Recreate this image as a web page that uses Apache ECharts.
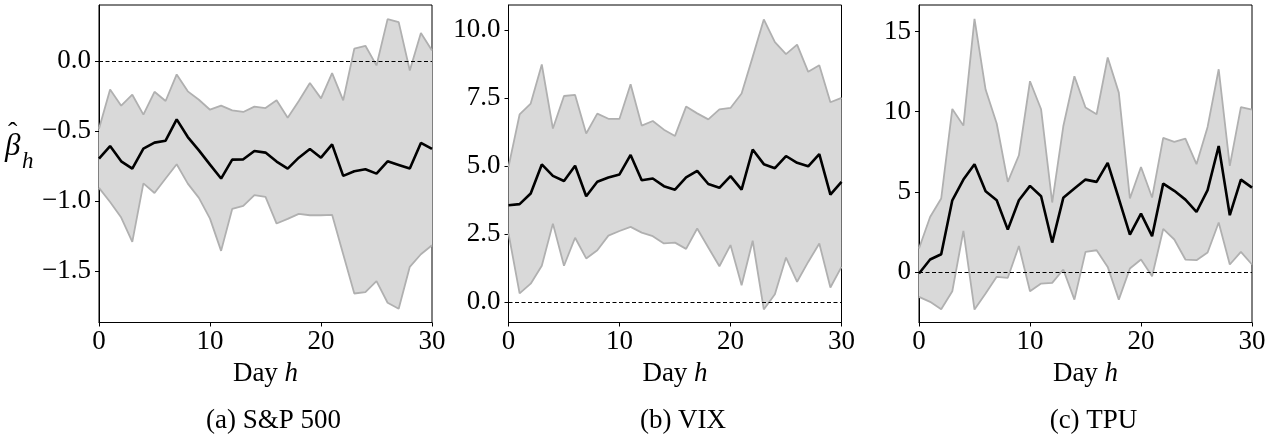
<!DOCTYPE html>
<html>
<head>
<meta charset="utf-8">
<script src="https://cdn.jsdelivr.net/npm/echarts@6/dist/echarts.min.js"></script>
<style>
html,body{margin:0;padding:0;background:#fff;}
#chart{width:1279px;height:439px;}
</style>
</head>
<body>
<div id="chart"></div>
<script>
// ---------- data ----------
const days = [0,1,2,3,4,5,6,7,8,9,10,11,12,13,14,15,16,17,18,19,20,21,22,23,24,25,26,27,28,29,30];

const spMean  = [-0.696,-0.606,-0.715,-0.767,-0.625,-0.582,-0.568,-0.416,-0.542,-0.637,-0.739,-0.838,-0.703,-0.701,-0.641,-0.653,-0.717,-0.767,-0.689,-0.627,-0.689,-0.594,-0.819,-0.786,-0.772,-0.803,-0.715,-0.741,-0.767,-0.584,-0.627];
const spUpper = [-0.482,-0.202,-0.318,-0.240,-0.382,-0.219,-0.285,-0.095,-0.216,-0.276,-0.347,-0.318,-0.352,-0.363,-0.325,-0.335,-0.280,-0.404,-0.285,-0.157,-0.266,-0.086,-0.280,0.088,0.109,-0.031,0.299,0.278,-0.067,0.200,0.076];
const spLower = [-0.905,-1.005,-1.116,-1.290,-0.872,-0.941,-0.838,-0.736,-0.874,-0.976,-1.124,-1.354,-1.055,-1.033,-0.957,-0.969,-1.159,-1.126,-1.090,-1.100,-1.100,-1.097,-1.378,-1.658,-1.648,-1.570,-1.724,-1.767,-1.468,-1.378,-1.314];

const vixMean  = [3.56,3.60,3.99,5.06,4.64,4.45,5.01,3.89,4.42,4.58,4.69,5.41,4.48,4.54,4.26,4.13,4.58,4.82,4.34,4.20,4.63,4.13,5.61,5.07,4.92,5.37,5.12,4.99,5.44,3.95,4.42];
const vixUpper = [4.97,6.90,7.30,8.74,6.38,7.58,7.62,6.20,6.93,6.74,6.74,8.01,6.49,6.66,6.34,6.11,7.19,6.94,6.72,7.09,7.14,7.67,9.02,10.40,9.56,9.12,9.47,8.47,8.71,7.35,7.51];
const vixLower = [2.52,0.31,0.67,1.33,2.88,1.33,2.36,1.60,1.90,2.44,2.61,2.76,2.55,2.42,2.15,2.18,1.95,2.70,2.00,1.31,2.09,0.61,2.25,-0.28,0.28,1.63,0.74,1.47,2.15,0.53,1.29];

const tpuMean  = [-0.10,0.77,1.10,4.47,5.76,6.72,5.03,4.47,2.64,4.47,5.37,4.72,1.83,4.62,5.20,5.76,5.62,6.80,4.58,2.33,3.64,2.23,5.51,5.06,4.51,3.74,5.10,7.86,3.54,5.76,5.26];
const tpuUpper = [1.46,3.43,4.58,10.17,9.13,15.79,11.38,9.26,5.62,7.28,11.90,10.15,4.33,9.09,12.21,10.26,9.84,13.38,11.19,4.58,6.55,4.64,8.36,8.11,8.32,6.72,9.05,12.65,6.62,10.28,10.13];
const tpuLower = [-1.56,-1.87,-2.33,-1.21,2.56,-2.35,-1.35,-0.31,-0.37,1.62,-1.21,-0.73,-0.69,0.15,-1.73,1.25,1.35,0.31,-1.73,0.21,0.77,-0.27,2.68,2.02,0.77,0.73,1.21,3.08,0.46,1.25,0.46];

const panelTitles = ['(a) S&P 500', '(b) VIX', '(c) TPU'];
const spTicks  = [-1.5, -1.0, -0.5, 0.0];
const vixTicks = [0.0, 2.5, 5.0, 7.5, 10.0];
const tpuTicks = [0, 5, 10, 15];
const spRange  = [-1.865, 0.40];
const vixRange = [-0.76, 10.93];
const tpuRange = [-3.16, 16.66];

// ---------- chart ----------
const FONT = 'Liberation Serif';
const FS = 27;
const panels = [
  {mean: spMean,  up: spUpper,  lo: spLower,  ticks: spTicks,  range: spRange,  dec: 1, left: 99},
  {mean: vixMean, up: vixUpper, lo: vixLower, ticks: vixTicks, range: vixRange, dec: 1, left: 508.5},
  {mean: tpuMean, up: tpuUpper, lo: tpuLower, ticks: tpuTicks, range: tpuRange, dec: 0, left: 919}
];
const W = 333, TOP = 5, H = 317.5;

const grid = [], xAxis = [], yAxis = [], series = [], title = [];
panels.forEach((p, i) => {
  grid.push({left: p.left, top: TOP, width: W, height: H, show: true,
             borderColor: '#000', borderWidth: 1, backgroundColor: 'transparent', containLabel: false});
  xAxis.push({
    type: 'category', gridIndex: i, data: days.map(String), boundaryGap: false,
    axisLine: {show: true, onZero: false, lineStyle: {color: '#000', width: 1}},
    axisTick: {show: true, interval: 9, length: 4, lineStyle: {color: '#000'}},
    axisLabel: {interval: 9, margin: 6, fontFamily: FONT, fontSize: FS, color: '#000'},
    splitLine: {show: false},
    name: '{r|Day }{i|h}', nameLocation: 'middle', nameGap: 34,
    nameTextStyle: {rich: {
      r: {fontFamily: FONT, fontSize: FS, color: '#000'},
      i: {fontFamily: FONT, fontSize: FS, fontStyle: 'italic', color: '#000'}
    }}
  });
  yAxis.push({
    type: 'value', gridIndex: i, min: p.range[0], max: p.range[1], scale: true,
    axisLine: {show: true, onZero: false, lineStyle: {color: '#000', width: 1}},
    axisTick: {show: true, length: 4, lineStyle: {color: '#000'}, customValues: p.ticks},
    axisLabel: {margin: 8, fontFamily: FONT, fontSize: FS, color: '#000', customValues: p.ticks,
      formatter: v => v.toFixed(p.dec).replace('-', '\u2212')},
    splitLine: {show: false}
  });
  const diff = p.up.map((u, k) => u - p.lo[k]);
  series.push({
    type: 'line', xAxisIndex: i, yAxisIndex: i, data: p.lo, stack: 'band' + i, stackStrategy: 'all',
    showSymbol: false, symbol: 'none', silent: true, z: 1,
    lineStyle: {color: '#b0b0b0', width: 1.8}
  });
  series.push({
    type: 'line', xAxisIndex: i, yAxisIndex: i, data: diff, stack: 'band' + i, stackStrategy: 'all',
    showSymbol: false, symbol: 'none', silent: true, z: 1,
    lineStyle: {color: '#b0b0b0', width: 1.8},
    areaStyle: {color: '#d9d9d9', opacity: 1}
  });
  series.push({
    type: 'line', xAxisIndex: i, yAxisIndex: i, data: p.mean,
    showSymbol: false, symbol: 'none', silent: true, z: 3,
    lineStyle: {color: '#000', width: 2.6},
    markLine: {silent: true, symbol: ['none', 'none'], label: {show: false},
      lineStyle: {type: [4, 2.5], color: '#000', width: 1}, z: 2,
      data: [{yAxis: 0}]}
  });
  title.push({
    text: panelTitles[i], left: p.left + W / 2 + 3, top: 402, textAlign: 'center',
    textStyle: {fontFamily: FONT, fontSize: FS, fontWeight: 'normal', color: '#000'}
  });
});

const chart = echarts.init(document.getElementById('chart'), null, {renderer: 'canvas'});
chart.setOption({
  animation: false,
  backgroundColor: '#fff',
  title, grid, xAxis, yAxis, series,
  graphic: [
    {type: 'text', left: 5, top: 131, style: {text: 'β', font: 'italic 31px "Liberation Serif"', fill: '#000'}},
    {type: 'text', left: 8, top: 120, style: {text: 'ˆ', font: '28px "Liberation Serif"', fill: '#000'}},
    {type: 'text', left: 22, top: 150, style: {text: 'h', font: 'italic 23px "Liberation Serif"', fill: '#000'}}
  ]
});
</script>
</body>
</html>
